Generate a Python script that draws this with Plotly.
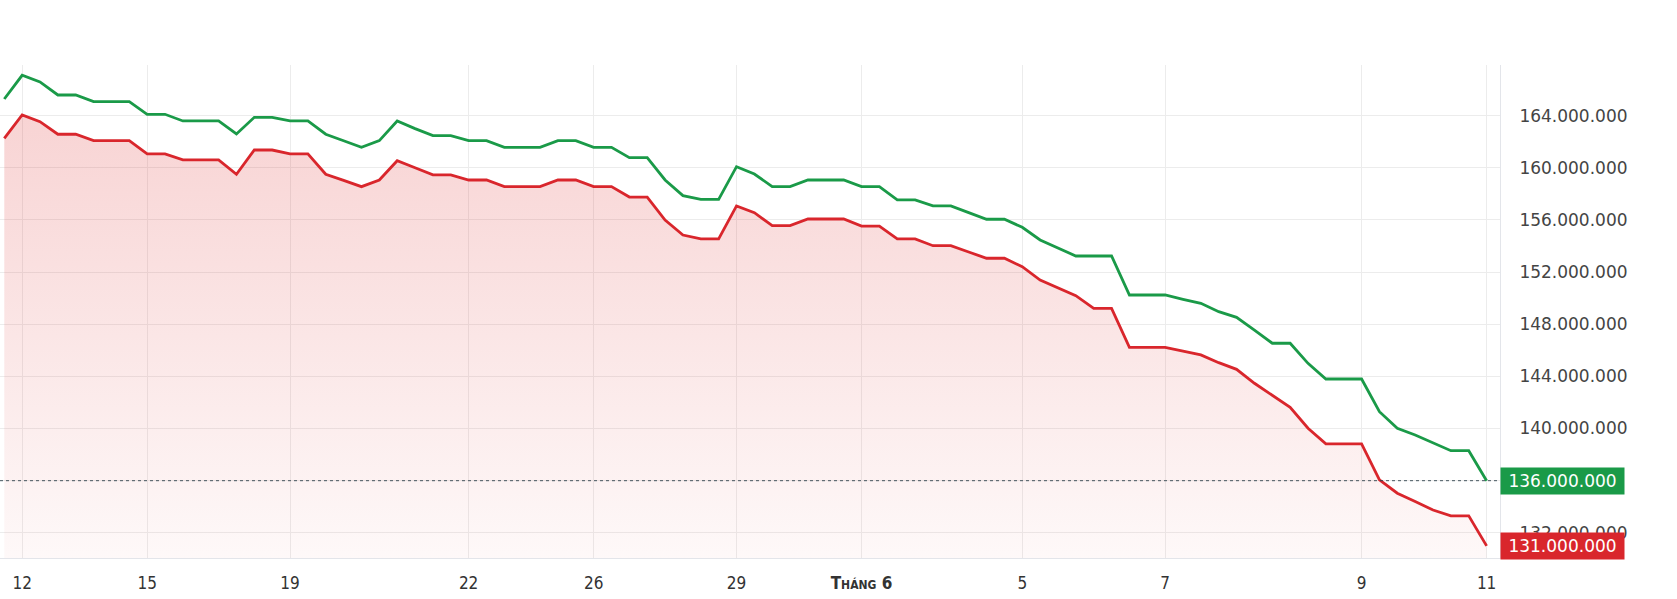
import plotly.graph_objects as go

# ---- data (values in million VND) ----
sell_price_m = [
    165.27, 167.09, 166.58, 165.58, 165.58, 165.07, 165.07, 165.07, 164.10, 164.10,
    163.59, 163.59, 163.59, 162.59, 163.87, 163.87, 163.59, 163.59, 162.57, 162.07,
    161.57, 162.08, 163.59, 163.00, 162.46, 162.46, 162.08, 162.08, 161.57, 161.57,
    161.57, 162.08, 162.08, 161.57, 161.57, 160.77, 160.77, 159.06, 157.86, 157.58,
    157.58, 160.08, 159.52, 158.55, 158.55, 159.06, 159.06, 159.06, 158.55, 158.55,
    157.53, 157.53, 157.07, 157.07, 156.56, 156.05, 156.05, 155.43, 154.46, 153.82,
    153.23, 153.23, 153.23, 150.24, 150.24, 150.24, 149.91, 149.60, 148.96, 148.53,
    147.54, 146.54, 146.54, 145.00, 143.80, 143.80, 143.80, 141.29, 140.02, 139.50,
    138.92, 138.30, 138.30, 136.00,
]
buy_price_m = [
    162.26, 164.05, 163.53, 162.57, 162.57, 162.08, 162.08, 162.08, 161.06, 161.06,
    160.60, 160.60, 160.60, 159.50, 161.36, 161.36, 161.06, 161.06, 159.50, 159.03,
    158.55, 159.06, 160.54, 160.00, 159.45, 159.45, 159.06, 159.06, 158.55, 158.55,
    158.55, 159.06, 159.06, 158.55, 158.55, 157.75, 157.75, 155.99, 154.84, 154.54,
    154.54, 157.07, 156.55, 155.56, 155.56, 156.07, 156.07, 156.07, 155.53, 155.53,
    154.54, 154.54, 154.02, 154.02, 153.54, 153.06, 153.06, 152.41, 151.39, 150.79,
    150.19, 149.22, 149.22, 146.23, 146.23, 146.23, 145.94, 145.65, 145.05, 144.54,
    143.47, 142.55, 141.63, 140.02, 138.82, 138.82, 138.82, 136.06, 135.04, 134.40,
    133.75, 133.30, 133.30, 131.00,
]
x_tick_index = [1, 8, 16, 26, 33, 41, 48, 57, 65, 76, 83]
x_tick_labels = ["12", "15", "19", "22", "26", "29", "Tháng 6", "5", "7", "9", "11"]
y_tick_values_m = [132, 136, 140, 144, 148, 152, 156, 160, 164]
last_sell_label = "136.000.000"
last_buy_label = "131.000.000"

# ---- build ----
M = 1_000_000
idx = list(range(len(sell_price_m)))
sell = [v * M for v in sell_price_m]
buy = [v * M for v in buy_price_m]
yvals = [v * M for v in y_tick_values_m]
# the 136 label sits fully under the green price box, so it is left blank
ytext = [
    "" if t == sell_price_m[-1] else f"{int(t * M):,}".replace(",", ".")
    for t in y_tick_values_m
]
xtext = [
    ('<span style="font-variant:small-caps;font-weight:bold">' + t + "</span>") if t.startswith("Tháng") else t
    for t in x_tick_labels
]

GREEN = "#1a9a48"
RED = "#d9262c"
y_lo, y_hi = 130.07 * M, 167.88 * M

fig = go.Figure()
fig.add_trace(go.Scatter(
    x=idx, y=buy, mode="lines",
    line=dict(color=RED, width=2.8),
    fill="tozeroy",
    fillgradient=dict(
        type="vertical",
        colorscale=[[0, "rgba(220,38,38,0.03)"], [1, "rgba(220,38,38,0.2)"]],
        start=y_lo, stop=max(buy),
    ),
    hoverinfo="skip", showlegend=False,
))
fig.add_trace(go.Scatter(
    x=idx, y=sell, mode="lines",
    line=dict(color=GREEN, width=2.8),
    hoverinfo="skip", showlegend=False,
))

fig.add_shape(type="line", xref="paper", x0=0, x1=1, yref="y",
              y0=sell[-1], y1=sell[-1],
              line=dict(color="rgba(40,60,70,0.85)", width=1, dash="dot"))

for val, label, col in [(sell[-1], last_sell_label, GREEN), (buy[-1], last_buy_label, RED)]:
    fig.add_annotation(
        xref="paper", x=1, xanchor="left", yref="y", y=val, yanchor="middle",
        text=label, showarrow=False, bgcolor=col, width=119, height=22,
        borderpad=2, align="center",
        font=dict(family="DejaVu Sans", size=17, color="white"),
    )

fig.update_layout(
    width=1677, height=599,
    margin=dict(l=0, r=177, t=65, b=41),
    paper_bgcolor="white", plot_bgcolor="white",
    showlegend=False,
    xaxis=dict(
        range=[-0.24, 83.75], tickmode="array", tickvals=x_tick_index, ticktext=xtext,
        showgrid=True, gridcolor="#ececec", gridwidth=1, zeroline=False,
        showline=True, linecolor="#e3e5ea", linewidth=1,
        ticks="", ticklabelstandoff=10,
        tickfont=dict(family="Liberation Sans Narrow, DejaVu Sans Condensed, Roboto", size=17, color="#333"),
    ),
    yaxis=dict(
        range=[y_lo, y_hi], side="right", tickmode="array", tickvals=yvals, ticktext=ytext,
        showgrid=True, gridcolor="#ececec", gridwidth=1, zeroline=False,
        showline=True, linecolor="#e3e5ea", linewidth=1,
        ticks="", ticklabelstandoff=15,
        tickfont=dict(family="DejaVu Sans", size=17, color="#444"),
    ),
)

fig.write_html("out.html")
